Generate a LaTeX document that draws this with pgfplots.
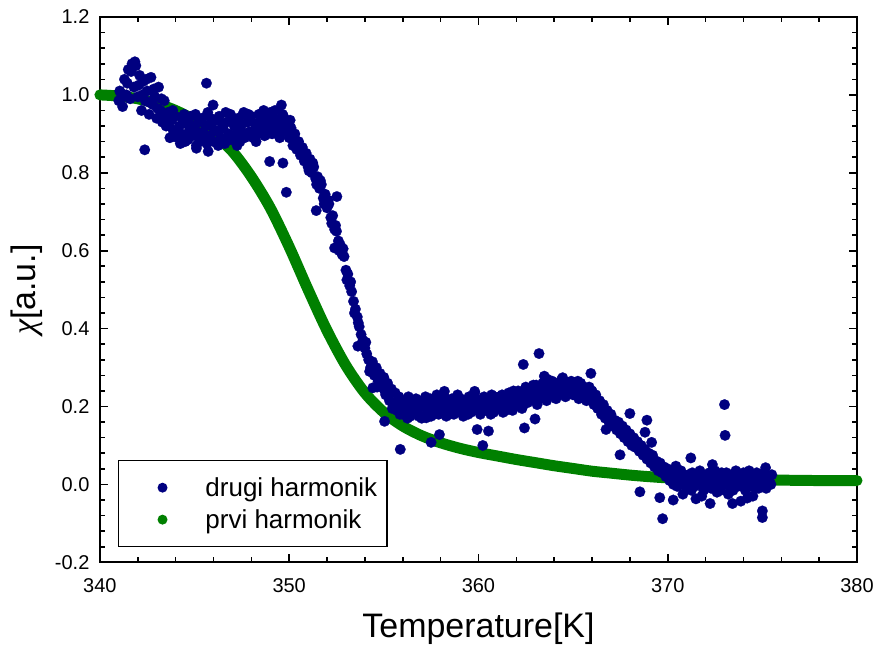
\documentclass[border=0pt]{standalone}
\usepackage{fontspec}
\setmainfont{Liberation Sans}
\newfontfamily\chifont{Liberation Serif}
\usepackage{pgfplots}
\usepackage{pgfplotstable}
\pgfplotsset{compat=1.18}
\definecolor{navyb}{RGB}{0,0,128}
\definecolor{greenp}{RGB}{0,128,0}

\pgfplotstableread{
x y
341.0 0.985
341.1 1.005
341.2 0.970
341.3 1.040
341.4 1.000
341.5 1.065
341.6 0.990
341.7 1.080
341.8 1.020
341.9 1.075
342.0 0.995
342.1 1.050
342.2 0.960
342.3 1.035
342.4 0.985
342.5 1.010
342.6 0.950
342.7 1.045
342.8 0.975
342.9 0.995
343.0 0.940
343.1 1.020
343.2 0.960
343.3 0.930
343.4 0.985
343.5 0.920
343.6 0.955
343.7 0.890
343.8 0.935
343.9 0.905
344.0 0.945
344.1 0.890
344.2 0.920
344.3 0.900
344.4 0.935
344.5 0.880
344.6 0.925
344.7 0.905
344.8 0.945
344.9 0.895
345.0 0.915
345.1 0.870
345.2 0.930
345.3 0.900
345.4 0.940
345.5 0.885
345.6 0.920
345.7 0.955
345.8 0.895
345.9 0.925
346.0 0.880
346.1 0.935
346.2 0.905
346.3 0.945
346.4 0.890
346.5 0.915
346.6 0.875
346.7 0.930
346.8 0.900
346.9 0.950
347.0 0.885
347.1 0.920
347.2 0.900
347.3 0.940
347.4 0.880
347.5 0.925
347.6 0.955
347.7 0.895
347.8 0.930
347.9 0.905
348.0 0.945
348.1 0.890
348.2 0.925
348.3 0.900
348.4 0.950
348.5 0.915
348.6 0.935
348.7 0.895
348.8 0.945
348.9 0.920
349.0 0.955
349.1 0.900
349.2 0.940
349.3 0.915
349.4 0.935
349.5 0.890
349.6 0.925
349.7 0.945
349.8 0.905
349.9 0.930
350.0 0.890
350.1 0.915
350.2 0.870
350.3 0.900
350.4 0.860
350.5 0.880
350.6 0.845
350.7 0.865
350.8 0.830
350.9 0.850
351.0 0.815
351.1 0.835
351.2 0.800
351.3 0.815
351.4 0.785
351.5 0.790
351.6 0.760
351.7 0.770
351.8 0.735
351.9 0.745
352.0 0.710
352.1 0.720
352.2 0.685
352.3 0.690
352.4 0.655
352.5 0.650
352.6 0.625
352.7 0.615
352.8 0.590
352.9 0.585
353.0 0.550
353.1 0.540
353.2 0.510
353.3 0.495
353.4 0.470
353.5 0.450
353.6 0.430
353.7 0.405
353.8 0.385
353.9 0.370
354.0 0.350
354.1 0.335
354.2 0.320
354.3 0.300
354.4 0.315
354.5 0.280
354.6 0.300
354.7 0.265
354.8 0.285
354.9 0.250
355.0 0.275
355.1 0.230
355.2 0.260
355.3 0.215
355.4 0.245
355.5 0.205
355.6 0.235
355.7 0.190
355.8 0.225
355.9 0.200
356.0 0.180
356.1 0.215
356.2 0.195
356.3 0.225
356.4 0.175
356.5 0.205
356.6 0.185
356.7 0.220
356.8 0.190
356.9 0.210
357.0 0.170
357.1 0.200
357.2 0.225
357.3 0.185
357.4 0.205
357.5 0.175
357.6 0.215
357.7 0.195
357.8 0.230
357.9 0.180
358.0 0.205
358.1 0.190
358.2 0.225
358.3 0.175
358.4 0.210
358.5 0.195
358.6 0.220
358.7 0.180
358.8 0.205
358.9 0.230
359.0 0.190
359.1 0.210
359.2 0.175
359.3 0.215
359.4 0.200
359.5 0.225
359.6 0.185
359.7 0.210
359.8 0.235
359.9 0.195
360.0 0.215
360.1 0.180
360.2 0.205
360.3 0.225
360.4 0.190
360.5 0.215
360.6 0.200
360.7 0.230
360.8 0.185
360.9 0.210
361.0 0.195
361.1 0.225
361.2 0.205
361.3 0.185
361.4 0.220
361.5 0.200
361.6 0.235
361.7 0.210
361.8 0.190
361.9 0.225
362.0 0.205
362.1 0.240
362.2 0.215
362.3 0.195
362.4 0.230
362.5 0.250
362.6 0.210
362.7 0.240
362.8 0.220
362.9 0.255
363.0 0.230
363.1 0.205
363.2 0.245
363.3 0.225
363.4 0.260
363.5 0.235
363.6 0.215
363.7 0.250
363.8 0.230
363.9 0.265
364.0 0.240
364.1 0.220
364.2 0.255
364.3 0.235
364.4 0.270
364.5 0.245
364.6 0.225
364.7 0.260
364.8 0.240
364.9 0.265
365.0 0.230
365.1 0.255
365.2 0.240
365.3 0.220
365.4 0.260
365.5 0.235
365.6 0.250
365.7 0.215
365.8 0.245
365.9 0.225
366.0 0.240
366.1 0.205
366.2 0.230
366.3 0.195
366.4 0.215
366.5 0.180
366.6 0.205
366.7 0.170
366.8 0.190
366.9 0.160
367.0 0.180
367.1 0.150
367.2 0.165
367.3 0.140
367.4 0.160
367.5 0.130
367.6 0.150
367.7 0.120
367.8 0.140
367.9 0.110
368.0 0.130
368.1 0.100
368.2 0.120
368.3 0.095
368.4 0.110
368.5 0.085
368.6 0.100
368.7 0.075
368.8 0.090
368.9 0.065
369.0 0.080
369.1 0.055
369.2 0.075
369.3 0.045
369.4 0.060
369.5 0.035
369.6 0.055
369.7 0.030
369.8 0.045
369.9 0.020
370.0 0.040
370.1 0.010
370.2 0.030
370.3 0.000
370.4 0.025
370.5 -0.005
370.6 0.020
370.7 0.035
370.8 0.000
370.9 0.015
371.0 -0.010
371.1 0.025
371.2 0.005
371.3 0.030
371.4 -0.005
371.5 0.020
371.6 0.000
371.7 0.035
371.8 0.010
371.9 -0.015
372.0 0.020
372.1 0.000
372.2 0.030
372.3 -0.010
372.4 0.015
372.5 0.035
372.6 0.005
372.7 0.025
372.8 -0.015
372.9 0.020
373.0 0.000
373.1 0.030
373.2 0.010
373.3 -0.010
373.4 0.025
373.5 0.005
373.6 0.035
373.7 -0.005
373.8 0.020
373.9 0.000
374.0 0.030
374.1 -0.015
374.2 0.015
374.3 0.035
374.4 -0.005
374.5 0.025
374.6 0.005
374.7 0.030
374.8 -0.010
374.9 0.020
375.0 0.000
375.1 0.030
375.2 -0.010
375.3 0.020
375.4 0.005
375.5 0.025
}\drugi

\pgfplotstableread{
x y
341.05 1.010
341.25 0.995
341.45 1.030
341.65 1.060
341.85 1.085
342.05 1.025
342.25 1.000
342.45 1.040
342.65 0.980
342.85 1.015
343.05 0.965
343.25 0.990
343.45 0.945
343.65 0.920
343.85 0.960
344.05 0.910
344.25 0.875
344.45 0.950
344.65 0.885
344.85 0.920
345.05 0.950
345.25 0.880
345.45 0.905
345.65 0.875
345.85 0.940
346.05 0.910
346.25 0.870
346.45 0.925
346.65 0.955
346.85 0.885
347.05 0.940
347.25 0.870
347.45 0.910
347.65 0.890
347.85 0.950
348.05 0.905
348.25 0.880
348.45 0.930
348.65 0.960
348.85 0.900
349.05 0.930
349.25 0.960
349.45 0.905
349.65 0.950
349.85 0.920
350.05 0.935
350.25 0.895
350.45 0.880
350.65 0.860
350.85 0.845
351.05 0.805
351.25 0.825
351.45 0.770
351.65 0.780
351.85 0.720
352.05 0.730
352.25 0.670
352.45 0.665
352.65 0.600
352.85 0.605
353.05 0.525
353.25 0.520
353.45 0.440
353.65 0.415
353.85 0.360
354.05 0.365
354.25 0.290
354.45 0.300
354.65 0.250
354.85 0.270
355.05 0.240
355.25 0.225
355.45 0.195
355.65 0.210
355.85 0.180
356.05 0.200
356.25 0.170
356.45 0.215
356.65 0.200
356.85 0.175
357.05 0.215
357.25 0.195
357.45 0.220
357.65 0.180
357.85 0.205
358.05 0.220
358.25 0.195
358.45 0.180
358.65 0.210
358.85 0.190
359.05 0.220
359.25 0.195
359.45 0.180
359.65 0.215
359.85 0.205
360.05 0.195
360.25 0.220
360.45 0.200
360.65 0.180
360.85 0.225
361.05 0.210
361.25 0.230
361.45 0.190
361.65 0.215
361.85 0.240
362.05 0.220
362.25 0.200
362.45 0.215
362.65 0.245
362.85 0.235
363.05 0.255
363.25 0.220
363.45 0.245
363.65 0.270
363.85 0.245
364.05 0.260
364.25 0.230
364.45 0.250
364.65 0.240
364.85 0.255
365.05 0.245
365.25 0.265
365.45 0.245
365.65 0.230
365.85 0.250
366.05 0.220
366.25 0.210
366.45 0.195
366.65 0.185
366.85 0.170
367.05 0.165
367.25 0.150
367.45 0.145
367.65 0.135
367.85 0.125
368.05 0.115
368.25 0.105
368.45 0.095
368.65 0.085
368.85 0.075
369.05 0.065
369.25 0.060
369.45 0.050
369.65 0.040
369.85 0.030
370.05 0.025
370.25 0.015
370.45 0.010
370.65 0.005
370.85 0.025
371.05 0.015
371.25 -0.015
371.45 0.010
371.65 0.020
371.85 -0.005
372.05 0.010
372.25 0.025
372.45 -0.005
372.65 0.015
372.85 0.030
373.05 0.010
373.25 0.015
373.45 -0.015
373.65 0.010
373.85 0.025
374.05 0.005
374.25 0.020
374.45 0.010
374.65 -0.010
374.85 0.015
375.05 0.020
375.25 0.010
375.45 0.000
}\drugib

\pgfplotstableread{
x y
342.37 0.859
345.63 1.030
345.10 0.863
345.72 0.855
345.98 0.974
347.56 0.949
348.97 0.829
349.67 0.825
349.59 0.974
349.85 0.750
352.52 0.739
351.43 0.703
352.40 0.607
353.63 0.355
354.42 0.248
355.04 0.162
355.87 0.090
357.24 0.171
357.50 0.108
357.94 0.128
359.93 0.141
360.23 0.100
360.53 0.137
362.43 0.145
362.99 0.168
362.37 0.308
363.20 0.336
365.94 0.285
364.45 0.274
363.48 0.278
358.20 0.239
359.80 0.239
366.74 0.141
367.48 0.076
368.00 0.182
368.90 0.165
368.80 0.134
369.15 0.108
368.53 -0.019
369.58 -0.034
370.29 -0.040
369.73 -0.088
371.49 -0.037
372.24 -0.049
373.42 -0.049
373.86 -0.043
375.00 -0.068
375.00 -0.085
373.00 0.205
373.03 0.126
371.22 0.068
372.36 0.051
375.17 0.043
370.43 0.047
370.80 -0.025
371.80 -0.030
372.60 -0.020
373.20 -0.025
374.20 -0.035
374.50 -0.030
}\drugiout

\pgfplotstableread{
x y
340 1.000
341 0.997
342 0.990
343 0.978
344 0.960
345 0.935
346 0.900
347 0.855
348 0.790
349 0.710
350 0.610
351 0.500
352 0.395
353 0.305
354 0.235
355 0.185
356 0.150
357 0.125
358 0.107
359 0.093
360 0.082
361 0.073
362 0.064
363 0.056
364 0.048
365 0.041
366 0.034
367 0.029
368 0.024
369 0.020
370 0.017
372 0.014
374 0.012
376 0.011
378 0.010
380 0.010
}\prvi

\begin{document}
\begin{tikzpicture}
\begin{axis}[
  scale only axis, width=758pt, height=546pt,
  xmin=340, xmax=380, ymin=-0.2, ymax=1.2,
  clip=false,
  xtick={340,350,360,370,380},
  ytick={-0.2,0,0.2,0.4,0.6,0.8,1.0,1.2},
  minor x tick num=4, minor y tick num=4,
  axis line style={line width=1.8pt},
  every tick/.style={black, line width=1.6pt},
  major tick length=8pt, minor tick length=5pt,
  tick label style={font=\fontsize{20}{24}\selectfont},
  /pgf/number format/assume math mode=true,
  yticklabel style={xshift=-7pt, /pgf/number format/.cd, fixed, fixed zerofill, precision=1},
  xticklabel style={yshift=-13pt, /pgf/number format/.cd, set thousands separator={}},
  xlabel={Temperature[K]}, ylabel={{\chifont\itshape χ}[a.u.]},
  label style={font=\fontsize{34}{40}\selectfont},
  xlabel style={at={(axis description cs:0.5,-0.1374)}, anchor=base},
  ylabel style={at={(axis description cs:-0.0963,0.5)}, anchor=center},
  legend style={at={(axis description cs:0.0237,0.0275)}, anchor=south west,
    draw=black, line width=1.5pt, inner xsep=10pt, inner ysep=11pt,
    font=\fontsize{26}{31}\selectfont,
    nodes={inner sep=0pt},
    /tikz/every odd column/.append style={column sep=9pt}},
  legend cell align=left,
]
\addplot[only marks, mark=*, color=navyb, mark size=5.3pt, mark options={line width=0.2pt},
  legend image code/.code={\path[draw=none,fill=none] (-34pt,-16pt) rectangle (34pt,16pt); \path[draw=none,fill=navyb] (0pt,0pt) circle (5pt);}]
  table[x=x,y=y] {\drugi};
\addlegendentry{drugi harmonik}
\addplot[only marks, mark=*, color=navyb, mark size=5.3pt, mark options={line width=0.2pt}, forget plot]
  table[x=x,y=y] {\drugib};
\addplot[only marks, mark=*, color=navyb, mark size=5.3pt, mark options={line width=0.2pt}, forget plot]
  table[x=x,y=y] {\drugiout};
\addplot[color=greenp, line width=11pt, line cap=round, line join=round, smooth, mark=none,
  legend image code/.code={\path[draw=none,fill=none] (-34pt,-16pt) rectangle (34pt,16pt); \path[draw=none,fill=greenp] (0pt,0pt) circle (5pt);}]
  table[x=x,y=y] {\prvi};
\addlegendentry{prvi harmonik}
\end{axis}
\path ([xshift=-100pt,yshift=-83pt]current axis.south west) rectangle ++(877pt,646pt);
\end{tikzpicture}
\end{document}
